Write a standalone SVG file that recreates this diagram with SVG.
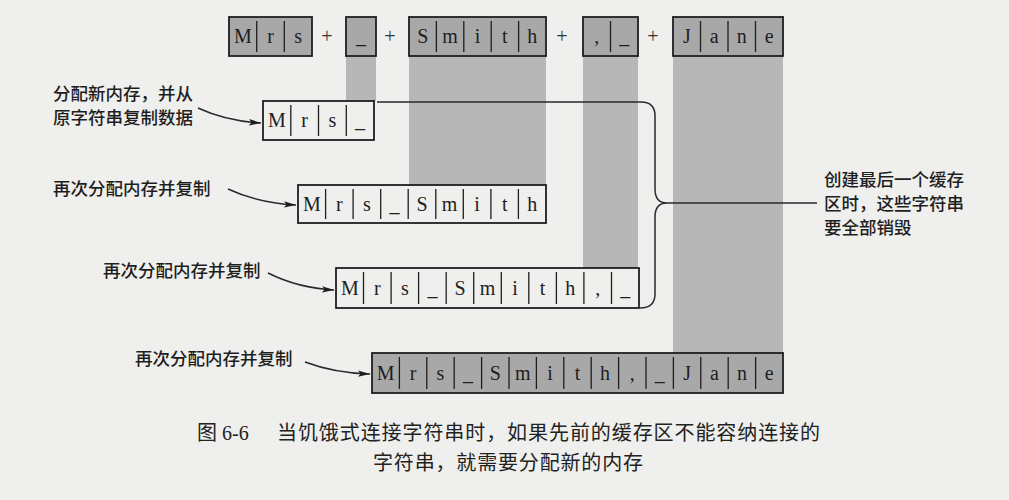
<svg xmlns="http://www.w3.org/2000/svg" width="1009" height="500" viewBox="0 0 1009 500">
<style>
.bg{fill:#efefed}
.band{fill:#b7b7b7}
.gbox{fill:#a8a8a8;stroke:#1e1e1e;stroke-width:1.8}
.wbox{fill:#efefed;stroke:#1e1e1e;stroke-width:1.8}
.div{stroke:#1e1e1e;stroke-width:1.3}
.ch{font-family:"Liberation Serif",serif;font-size:20px;fill:#1e1e1e;text-anchor:middle}
.op{font-family:"Liberation Serif",serif;font-size:20px;fill:#333333;text-anchor:middle}
.lbl{font-family:"Noto Sans CJK SC",sans-serif;font-size:17.5px;font-weight:500;fill:#1e1e1e}
.cap{font-family:"Liberation Serif","Noto Sans CJK SC",sans-serif;font-size:20px;fill:#222222}
.conn{fill:none;stroke:#2a2a2a;stroke-width:1.5}
</style>
<defs>
<marker id="ah" markerUnits="userSpaceOnUse" markerWidth="13" markerHeight="8" refX="12" refY="4" orient="auto">
<path d="M0,0.8 L12,4 L0,7.2 L2.5,4 z" fill="#1e1e1e"/>
</marker>
</defs>
<rect class="bg" x="0" y="0" width="1009" height="500"/>
<g id="bands">
<rect class="band" x="346" y="56" width="30" height="45"/>
<rect class="band" x="409" y="56" width="137" height="129"/>
<rect class="band" x="583" y="56" width="55" height="212"/>
<rect class="band" x="673" y="56" width="110" height="297"/>
</g>
<g id="top-mrs">
<rect class="gbox" x="229" y="17" width="83" height="39"/>
<line class="div" x1="256.7" y1="21" x2="256.7" y2="52"/>
<line class="div" x1="284.3" y1="21" x2="284.3" y2="52"/>
<text class="ch" x="242.8" y="43">M</text><text class="ch" x="270.5" y="43">r</text><text class="ch" x="298.2" y="43">s</text>
</g>
<text class="op" x="327" y="43">+</text>
<g id="top-space">
<rect class="gbox" x="346" y="17" width="30" height="39"/>
<text class="ch" x="361" y="43">_</text>
</g>
<text class="op" x="390" y="43">+</text>
<g id="top-smith">
<rect class="gbox" x="409" y="17" width="137" height="39"/>
<line class="div" x1="436.4" y1="21" x2="436.4" y2="52"/>
<line class="div" x1="463.8" y1="21" x2="463.8" y2="52"/>
<line class="div" x1="491.2" y1="21" x2="491.2" y2="52"/>
<line class="div" x1="518.6" y1="21" x2="518.6" y2="52"/>
<text class="ch" x="422.7" y="43">S</text><text class="ch" x="450.1" y="43">m</text><text class="ch" x="477.5" y="43">i</text><text class="ch" x="504.9" y="43">t</text><text class="ch" x="532.3" y="43">h</text>
</g>
<text class="op" x="562" y="43">+</text>
<g id="top-comma">
<rect class="gbox" x="583" y="17" width="55" height="39"/>
<line class="div" x1="610.5" y1="21" x2="610.5" y2="52"/>
<text class="ch" x="596.8" y="43">,</text><text class="ch" x="624.3" y="43">_</text>
</g>
<text class="op" x="653" y="43">+</text>
<g id="top-jane">
<rect class="gbox" x="673" y="17" width="110" height="39"/>
<line class="div" x1="700.5" y1="21" x2="700.5" y2="52"/>
<line class="div" x1="728" y1="21" x2="728" y2="52"/>
<line class="div" x1="755.5" y1="21" x2="755.5" y2="52"/>
<text class="ch" x="686.8" y="43">J</text><text class="ch" x="714.3" y="43">a</text><text class="ch" x="741.8" y="43">n</text><text class="ch" x="769.3" y="43">e</text>
</g>
<g id="row1">
<rect class="wbox" x="263" y="101" width="111" height="39"/>
<line class="div" x1="290.8" y1="105" x2="290.8" y2="136"/>
<line class="div" x1="318.5" y1="105" x2="318.5" y2="136"/>
<line class="div" x1="346.3" y1="105" x2="346.3" y2="136"/>
<text class="ch" x="276.9" y="127">M</text><text class="ch" x="304.6" y="127">r</text><text class="ch" x="332.4" y="127">s</text><text class="ch" x="360.1" y="127">_</text>
</g>
<g id="row2">
<rect class="wbox" x="298" y="185" width="248" height="38"/>
<g class="div">
<line x1="325.6" y1="189" x2="325.6" y2="219"/><line x1="353.1" y1="189" x2="353.1" y2="219"/><line x1="380.7" y1="189" x2="380.7" y2="219"/><line x1="408.2" y1="189" x2="408.2" y2="219"/><line x1="435.8" y1="189" x2="435.8" y2="219"/><line x1="463.3" y1="189" x2="463.3" y2="219"/><line x1="490.9" y1="189" x2="490.9" y2="219"/><line x1="518.4" y1="189" x2="518.4" y2="219"/>
</g>
<text class="ch" x="311.8" y="210.5">M</text><text class="ch" x="339.3" y="210.5">r</text><text class="ch" x="366.9" y="210.5">s</text><text class="ch" x="394.4" y="210.5">_</text><text class="ch" x="422" y="210.5">S</text><text class="ch" x="449.6" y="210.5">m</text><text class="ch" x="477.1" y="210.5">i</text><text class="ch" x="504.7" y="210.5">t</text><text class="ch" x="532.2" y="210.5">h</text>
</g>
<g id="row3">
<rect class="wbox" x="336" y="268" width="303" height="40"/>
<g class="div">
<line x1="363.5" y1="272" x2="363.5" y2="304"/><line x1="391.1" y1="272" x2="391.1" y2="304"/><line x1="418.6" y1="272" x2="418.6" y2="304"/><line x1="446.2" y1="272" x2="446.2" y2="304"/><line x1="473.7" y1="272" x2="473.7" y2="304"/><line x1="501.3" y1="272" x2="501.3" y2="304"/><line x1="528.8" y1="272" x2="528.8" y2="304"/><line x1="556.4" y1="272" x2="556.4" y2="304"/><line x1="583.9" y1="272" x2="583.9" y2="304"/><line x1="611.5" y1="272" x2="611.5" y2="304"/>
</g>
<text class="ch" x="349.8" y="294.5">M</text><text class="ch" x="377.3" y="294.5">r</text><text class="ch" x="404.9" y="294.5">s</text><text class="ch" x="432.4" y="294.5">_</text><text class="ch" x="460" y="294.5">S</text><text class="ch" x="487.5" y="294.5">m</text><text class="ch" x="515.1" y="294.5">i</text><text class="ch" x="542.6" y="294.5">t</text><text class="ch" x="570.2" y="294.5">h</text><text class="ch" x="597.7" y="294.5">,</text><text class="ch" x="625.2" y="294.5">_</text>
</g>
<g id="row4">
<rect class="gbox" x="372" y="353" width="411" height="40"/>
<g class="div">
<line x1="399.4" y1="357" x2="399.4" y2="389"/><line x1="426.8" y1="357" x2="426.8" y2="389"/><line x1="454.2" y1="357" x2="454.2" y2="389"/><line x1="481.6" y1="357" x2="481.6" y2="389"/><line x1="509" y1="357" x2="509" y2="389"/><line x1="536.4" y1="357" x2="536.4" y2="389"/><line x1="563.8" y1="357" x2="563.8" y2="389"/><line x1="591.2" y1="357" x2="591.2" y2="389"/><line x1="618.6" y1="357" x2="618.6" y2="389"/><line x1="646" y1="357" x2="646" y2="389"/><line x1="673.4" y1="357" x2="673.4" y2="389"/><line x1="700.8" y1="357" x2="700.8" y2="389"/><line x1="728.2" y1="357" x2="728.2" y2="389"/><line x1="755.6" y1="357" x2="755.6" y2="389"/>
</g>
<text class="ch" x="385.7" y="379.5">M</text><text class="ch" x="413.1" y="379.5">r</text><text class="ch" x="440.5" y="379.5">s</text><text class="ch" x="467.9" y="379.5">_</text><text class="ch" x="495.3" y="379.5">S</text><text class="ch" x="522.7" y="379.5">m</text><text class="ch" x="550.1" y="379.5">i</text><text class="ch" x="577.5" y="379.5">t</text><text class="ch" x="604.9" y="379.5">h</text><text class="ch" x="632.3" y="379.5">,</text><text class="ch" x="659.7" y="379.5">_</text><text class="ch" x="687.1" y="379.5">J</text><text class="ch" x="714.5" y="379.5">a</text><text class="ch" x="741.9" y="379.5">n</text><text class="ch" x="769.3" y="379.5">e</text>
</g>
<g id="label1">
<text class="lbl" x="53" y="99.5">分配新内存，并从</text>
<text class="lbl" x="53" y="123.5">原字符串复制数据</text>
</g>
<g id="label2"><text class="lbl" x="53" y="194.5">再次分配内存并复制</text></g>
<g id="label3"><text class="lbl" x="103" y="276.5">再次分配内存并复制</text></g>
<g id="label4"><text class="lbl" x="135" y="364.5">再次分配内存并复制</text></g>
<g id="label-destroy">
<text class="lbl" x="824" y="185.5">创建最后一个缓存</text>
<text class="lbl" x="824" y="209.5">区时，这些字符串</text>
<text class="lbl" x="824" y="233.5">要全部销毁</text>
</g>
<g id="connectors">
<path class="conn" marker-end="url(#ah)" d="M198,108 Q226,121 261,123"/>
<path class="conn" marker-end="url(#ah)" d="M228,189 Q258,203 296,205"/>
<path class="conn" marker-end="url(#ah)" d="M268,273 Q298,288 334,290"/>
<path class="conn" marker-end="url(#ah)" d="M305,362 Q334,373 370,374"/>
<path class="conn" d="M377,102 L641,102 Q655,102 655,116 L655,189 Q655,203 667,203 Q655,203 655,217 L655,294 Q655,308 640,308"/>
<line class="conn" x1="667" y1="203" x2="817" y2="203"/>
</g>
<g id="caption">
<text class="cap" x="197" y="440">图 6-6</text>
<text class="cap" x="277" y="440" textLength="543" lengthAdjust="spacing">当饥饿式连接字符串时，如果先前的缓存区不能容纳连接的</text>
<text class="cap" x="373" y="470" textLength="270" lengthAdjust="spacing">字符串，就需要分配新的内存</text>
</g>
</svg>
